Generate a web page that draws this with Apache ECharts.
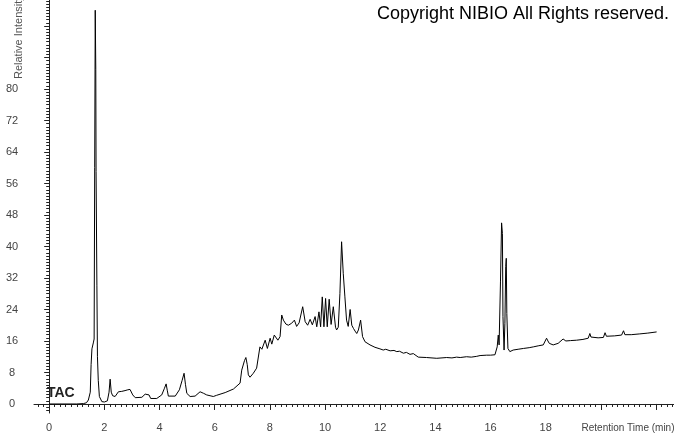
<!DOCTYPE html>
<html>
<head>
<meta charset="utf-8">
<script src="https://cdn.jsdelivr.net/npm/echarts@6/dist/echarts.min.js"></script>
<style>html,body{margin:0;padding:0;background:#fff}#c{width:674px;height:434px}</style>
</head>
<body>
<div id="c"></div>
<script>
// Retention time (min)
var times = [0,0.5,1.0,1.24,1.35,1.42,1.49,1.52,1.55,1.60,1.63,1.65,1.67,1.69,1.70,1.73,1.75,1.78,1.82,1.91,2.0,2.11,2.17,2.21,2.25,2.30,2.39,2.51,2.63,2.75,2.85,2.93,3.03,3.12,3.36,3.48,3.54,3.62,3.68,3.9,4.08,4.18,4.24,4.28,4.32,4.57,4.72,4.82,4.89,4.94,4.99,5.11,5.29,5.47,5.6,5.71,5.95,6.07,6.38,6.68,6.74,6.92,6.98,7.08,7.13,7.18,7.22,7.28,7.40,7.52,7.64,7.71,7.83,7.91,8.01,8.07,8.16,8.29,8.37,8.43,8.49,8.58,8.67,8.79,8.89,8.97,9.06,9.19,9.28,9.37,9.46,9.54,9.64,9.70,9.78,9.84,9.90,9.96,10.02,10.08,10.15,10.22,10.30,10.38,10.42,10.48,10.54,10.60,10.66,10.72,10.78,10.84,10.91,10.97,11.03,11.09,11.15,11.21,11.29,11.36,11.45,11.63,11.81,11.99,12.11,12.2,12.36,12.5,12.6,12.7,12.84,12.95,13.08,13.2,13.26,13.38,13.68,14.05,14.41,14.6,14.77,14.9,15.13,15.3,15.5,15.62,15.86,16.0,16.16,16.22,16.24,16.28,16.31,16.34,16.36,16.40,16.43,16.45,16.49,16.52,16.55,16.57,16.59,16.63,16.70,16.82,17.0,17.19,17.4,17.55,17.75,17.91,17.97,18.03,18.08,18.13,18.27,18.45,18.52,18.63,18.73,18.9,19.12,19.35,19.54,19.60,19.64,19.67,19.9,20.09,20.15,20.20,20.22,20.5,20.75,20.82,20.87,20.89,21.1,21.41,21.7,22.02];
// Relative intensity
var intensity = [0,0,0,0.1,0.3,1.0,3,10,14,15.5,16.5,60,100,85,59,30,12,6,1.9,0.6,0.5,0.8,3,6.3,3,2.1,1.9,3.1,3.2,3.4,3.6,3.7,2.3,1.6,1.7,2.5,2.7,2.3,1.4,1.4,2.3,4,5.1,3.5,2.0,2.0,3.6,6,7.8,5,2.7,1.9,2.0,3.1,2.7,2.3,1.9,2.2,2.9,3.8,4.0,5.3,8.6,11,11.8,10,7.4,6.8,7.8,9.1,14.5,13.9,16.2,14.1,16.7,15.2,17.5,16.2,17.1,22.6,21.3,20.3,20.0,20.5,21.3,19.7,20.6,24.7,20.9,20.0,21.5,20.1,22.2,19.6,23.4,19.6,27.2,19.6,26.8,19.6,26.6,20.2,24.7,19.5,18.8,19.5,28.1,41.2,33.2,27.2,21.3,19.7,24.0,20,19.2,18.5,17.9,18.8,21.3,17.1,15.8,15.0,14.4,14.0,13.7,13.9,13.5,13.6,13.3,13.4,12.9,13.1,12.6,12.8,12.9,11.9,11.8,11.6,11.8,11.7,11.9,11.8,12.0,11.9,12.1,12.3,12.4,12.4,12.5,12.9,14.5,17.5,15,14.5,31,46,43.3,22.2,13.7,20.5,34.9,37,23,14.1,13.3,13.7,13.9,14.1,14.3,14.5,14.8,15.0,15.5,16.7,16.0,15.4,15.0,15.4,15.8,16.5,16.0,16.1,16.2,16.4,16.7,17.9,17.0,16.7,16.8,16.9,18.1,17.2,17.1,17.3,17.5,18.6,17.6,17.5,17.6,17.8,18.0,18.3];
// Tick labels
var xLabels = [0,2,4,6,8,10,12,14,16,18];
var yLabels = [0,8,16,24,32,40,48,56,64,72,80];
var yMajorTicks = [0,8,16,24,32,40,48,56,64,72,80,88,96];
var xMajorTicks = [0,2,4,6,8,10,12,14,16,18,20,22];
var xMinorTicks = [];
for (var i = -2; i <= 113; i++) xMinorTicks.push(+(i * 0.2).toFixed(2));
var yMinorTicks = [];
for (var j = -2; j <= 128; j++) yMinorTicks.push(+(j * 0.8).toFixed(2));

var data = times.map(function (t, k) { return [t, intensity[k]]; });

var chart = echarts.init(document.getElementById('c'), null, {renderer: 'canvas'});
var font = 'Liberation Sans, Arial, sans-serif';
var XMIN = -0.55, XMAX = 22.65, YMIN = -2.29, YMAX = 102.6;
chart.setOption({
  animation: false,
  backgroundColor: '#fff',
  grid: {left: 34, right: 0, top: 0, bottom: 21, containLabel: false, outerBoundsMode: 'none'},
  xAxis: [{
    type: 'value', min: XMIN, max: XMAX, position: 'bottom',
    axisLine: {show: true, lineStyle: {color: '#222', width: 1}},
    axisTick: {show: true, length: 6, customValues: xMajorTicks, lineStyle: {color: '#222'}},
    axisLabel: {customValues: xLabels, color: '#444', fontSize: 11, fontFamily: font, margin: 9},
    splitLine: {show: false}
  }, {
    type: 'value', min: XMIN, max: XMAX, position: 'bottom', offset: 0,
    axisLine: {show: false},
    axisTick: {show: true, length: 3, customValues: xMinorTicks, lineStyle: {color: '#222'}},
    axisLabel: {show: false},
    splitLine: {show: false}
  }],
  yAxis: [{
    type: 'value', min: YMIN, max: YMAX, position: 'left',
    axisLine: {show: true, lineStyle: {color: '#222', width: 1}},
    axisTick: {show: true, length: 5, customValues: yMajorTicks, lineStyle: {color: '#222'}},
    axisLabel: {customValues: yLabels, color: '#444', fontSize: 11, fontFamily: font, margin: 22, align: 'center'},
    splitLine: {show: false}
  }, {
    type: 'value', min: YMIN, max: YMAX, position: 'left', offset: 0,
    axisLine: {show: false},
    axisTick: {show: true, length: 3, customValues: yMinorTicks, lineStyle: {color: '#222'}},
    axisLabel: {show: false},
    splitLine: {show: false}
  }],
  series: [{
    type: 'line', xAxisIndex: 0, yAxisIndex: 0, data: data,
    showSymbol: false, symbol: 'none',
    lineStyle: {color: '#000', width: 1}
  }],
  graphic: [
    {type: 'text', left: 377, top: 5, style: {text: 'Copyright NIBIO All Rights reserved.', font: '18px Liberation Sans, Arial, sans-serif', fill: '#000'}},
    {type: 'text', x: 19, y: 79, rotation: Math.PI / 2, style: {text: 'Relative Intensity', font: '11px Liberation Sans, Arial, sans-serif', fill: '#555', align: 'left', verticalAlign: 'middle'}},
    {type: 'text', x: 628, y: 428, style: {text: 'Retention Time (min)', font: '10px Liberation Sans, Arial, sans-serif', fill: '#444', align: 'center', verticalAlign: 'middle'}},
    {type: 'text', x: 47, y: 393, style: {text: 'TAC', font: 'bold 14px Liberation Sans, Arial, sans-serif', fill: '#222', align: 'left', verticalAlign: 'middle'}}
  ]
});
</script>
</body>
</html>
